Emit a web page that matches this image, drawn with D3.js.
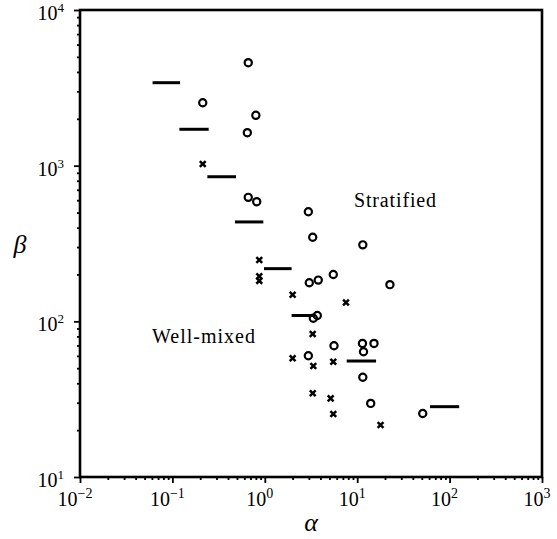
<!DOCTYPE html>
<html>
<head>
<meta charset="utf-8">
<script src="https://cdn.jsdelivr.net/npm/d3@7"></script>
<style>
  body { margin: 0; background: #fff; }
  svg { font-family: "Liberation Serif", "Times New Roman", serif; }
</style>
</head>
<body>
<svg id="chart" width="557" height="539"></svg>
<script>
// alpha / beta readings
const circleAlpha = [0.662, 0.213, 0.80, 0.647, 0.662, 0.817, 2.96, 3.30, 11.5, 3.03, 3.79, 5.51, 22.6, 3.35, 3.70, 5.61, 11.4, 15.2, 11.7, 11.5, 14.0, 51.2, 2.96];
const circleBeta  = [4587, 2538, 2106, 1629, 626, 587, 506, 347, 310, 177, 184, 200, 172, 104.6, 109, 69.7, 72.1, 72.1, 63.8, 43.7, 29.7, 25.6, 60.1];

const crossAlpha = [0.213, 0.871, 0.871, 0.871, 2.0, 7.56, 3.30, 2.0, 3.35, 5.51, 3.30, 5.16, 5.51, 17.9];
const crossBeta  = [1025, 248, 195, 182, 148, 132, 83, 57.9, 51.7, 55, 34.5, 32, 25.4, 21.6];

// horizontal bars: alpha range and beta level
const barAlphaLow  = [0.061, 0.119, 0.239, 0.476, 0.98, 1.95, 7.70, 61.4];
const barAlphaHigh = [0.121, 0.247, 0.488, 0.964, 1.95, 3.35, 16.0, 127];
const barBeta      = [3412, 1713, 849, 435, 218, 109, 55.6, 28.3];

const xDecades = [-2, -1, 0, 1, 2, 3];
const yDecades = [1, 2, 3, 4];

const regionText = ['Stratified', 'Well-mixed'];

const svg = d3.select('#chart');
const mLeft = 80, mRight = 542, mTop = 10, mBottom = 477;

const x = d3.scaleLog().domain([1e-2, 1e3]).range([mLeft, mRight]);
const y = d3.scaleLog().domain([1e1, 1e4]).range([mBottom, mTop]);

// minor tick values, 2..9 in every decade
const minorX = [];
xDecades.slice(0, -1).forEach(e => { for (let k = 2; k < 10; k++) minorX.push(k * Math.pow(10, e)); });
const minorY = [];
yDecades.slice(0, -1).forEach(e => { for (let k = 2; k < 10; k++) minorY.push(k * Math.pow(10, e)); });

const ax = svg.append('g').attr('transform', `translate(0,${mBottom})`);
ax.call(d3.axisBottom(x).tickValues(minorX).tickSize(3).tickFormat(''));
ax.append('g').call(d3.axisBottom(x).tickValues(xDecades.map(e => Math.pow(10, e))).tickSize(6).tickFormat(''));

const ay = svg.append('g').attr('transform', `translate(${mLeft},0)`);
ay.call(d3.axisLeft(y).tickValues(minorY).tickSize(3).tickFormat(''));
ay.append('g').call(d3.axisLeft(y).tickValues(yDecades.map(e => Math.pow(10, e))).tickSize(6).tickFormat(''));

svg.selectAll('.domain').remove();
svg.selectAll('.tick line').attr('stroke', '#000').attr('stroke-width', 1.8);

// frame
svg.append('rect')
    .attr('x', mLeft).attr('y', mTop)
    .attr('width', mRight - mLeft).attr('height', mBottom - mTop)
    .attr('fill', 'none').attr('stroke', '#000').attr('stroke-width', 2.6);

// tick labels with superscripts
const xl = svg.append('g').selectAll('text').data(xDecades).join('text')
    .attr('x', d => x(Math.pow(10, d)) - 5)
    .attr('y', 506)
    .attr('text-anchor', 'middle')
    .attr('font-size', 20);
xl.append('tspan').text('10');
xl.append('tspan').attr('dy', -8).attr('font-size', 14).text(d => d < 0 ? '\u2212' + (-d) : d);

const yl = svg.append('g').selectAll('text').data(yDecades).join('text')
    .attr('x', 64)
    .attr('y', d => y(Math.pow(10, d)) + 10)
    .attr('text-anchor', 'end')
    .attr('font-size', 20);
yl.append('tspan').text('10');
yl.append('tspan').attr('dy', -8).attr('font-size', 13).text(d => d);

// axis titles
svg.append('text').attr('x', 311).attr('y', 531).attr('text-anchor', 'middle')
    .attr('font-size', 26).attr('font-style', 'italic').text('\u03b1');
svg.append('text').attr('x', 20).attr('y', 253).attr('text-anchor', 'middle')
    .attr('font-size', 26).attr('font-style', 'italic').text('\u03b2');

// region labels
svg.append('text').attr('x', 354).attr('y', 207).attr('font-size', 20)
    .attr('textLength', 82).text(regionText[0]);
svg.append('text').attr('x', 152).attr('y', 343).attr('font-size', 20)
    .attr('textLength', 103).text(regionText[1]);

// bars
svg.append('g').selectAll('line').data(barBeta).join('line')
    .attr('x1', (d, i) => x(barAlphaLow[i]))
    .attr('x2', (d, i) => x(barAlphaHigh[i]))
    .attr('y1', d => y(d))
    .attr('y2', d => y(d))
    .attr('stroke', '#000').attr('stroke-width', 3);

// circles
svg.append('g').selectAll('circle').data(circleBeta).join('circle')
    .attr('cx', (d, i) => x(circleAlpha[i]))
    .attr('cy', d => y(d))
    .attr('r', 3.6)
    .attr('fill', 'none').attr('stroke', '#000').attr('stroke-width', 2.2);

// crosses
const s = 2.9;
svg.append('g').selectAll('path').data(crossBeta).join('path')
    .attr('transform', (d, i) => `translate(${x(crossAlpha[i])},${y(d)})`)
    .attr('d', `M${-s},${-s}L${s},${s}M${-s},${s}L${s},${-s}`)
    .attr('stroke', '#000').attr('stroke-width', 2.5);
</script>
</body>
</html>
